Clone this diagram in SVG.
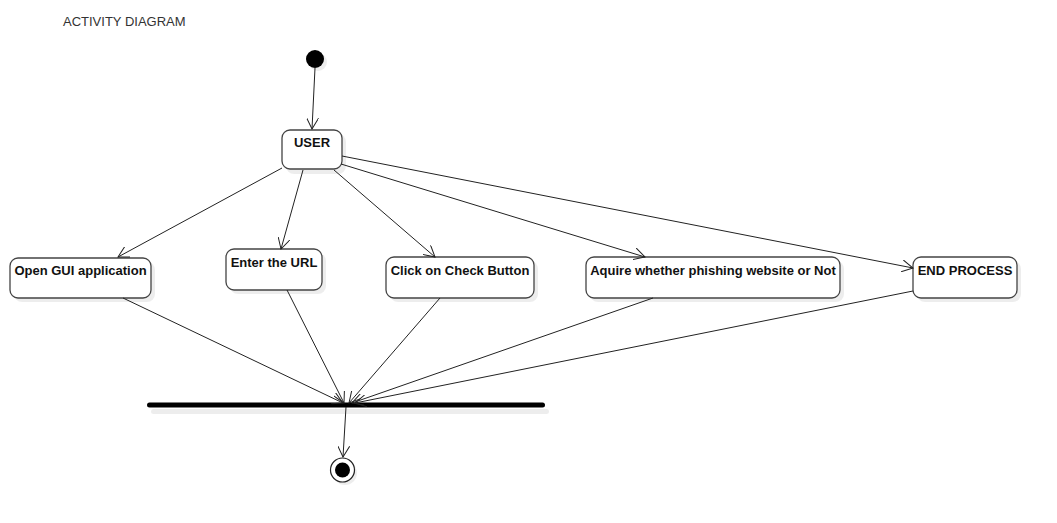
<svg xmlns="http://www.w3.org/2000/svg" width="1057" height="523" viewBox="0 0 1057 523">
<style>
.node{fill:#fff;stroke:#444;stroke-width:1.3}
.shadow{fill:#000;fill-opacity:0.07}
.lbl{font-family:"Liberation Sans",Arial,sans-serif;font-size:13px;font-weight:bold;fill:#111;text-anchor:middle}
.title{font-family:"Liberation Sans",Arial,sans-serif;font-size:13px;fill:#333}
.edge{fill:none;stroke:#222;stroke-width:1;marker-end:url(#arr)}
</style>
<defs>
<marker id="arr" viewBox="0 0 12 12" refX="11" refY="6" markerWidth="12" markerHeight="12" markerUnits="userSpaceOnUse" orient="auto">
<path d="M0,0 L11,6 L0,12" fill="none" stroke="#222" stroke-width="1"/>
</marker>
</defs>
<rect width="1057" height="523" fill="#fff"/>
<text class="title" x="63" y="26">ACTIVITY DIAGRAM</text>

<g id="start">
<circle cx="318" cy="62" r="9" class="shadow"/>
<circle cx="315" cy="59" r="9" fill="#000"/>
</g>

<g id="user">
<rect x="286" y="134" width="60" height="40" rx="8" class="shadow"/>
<rect x="282" y="130" width="60" height="39" rx="8" class="node"/>
<text class="lbl" x="312" y="147">USER</text>
</g>

<g id="open-gui">
<rect x="14" y="262" width="141" height="40" rx="8" class="shadow"/>
<rect x="10" y="258" width="141" height="40" rx="8" class="node"/>
<text class="lbl" x="80.5" y="275">Open GUI application</text>
</g>

<g id="enter-url">
<rect x="230" y="253" width="96" height="41" rx="8" class="shadow"/>
<rect x="226" y="249" width="96" height="41" rx="8" class="node"/>
<text class="lbl" x="274" y="267">Enter the URL</text>
</g>

<g id="click-check">
<rect x="390" y="261" width="148" height="41" rx="8" class="shadow"/>
<rect x="386" y="257" width="148" height="41" rx="8" class="node"/>
<text class="lbl" x="460" y="275">Click on Check Button</text>
</g>

<g id="aquire">
<rect x="590" y="261" width="254" height="41" rx="8" class="shadow"/>
<rect x="586" y="257" width="254" height="41" rx="8" class="node"/>
<text class="lbl" x="713" y="275">Aquire whether phishing website or Not</text>
</g>

<g id="end-process">
<rect x="917" y="261" width="104" height="41" rx="8" class="shadow"/>
<rect x="913" y="257" width="104" height="41" rx="8" class="node"/>
<text class="lbl" x="965" y="275">END PROCESS</text>
</g>

<g id="join-bar">
<rect x="151" y="409" width="398" height="5" rx="2.5" class="shadow"/>
<rect x="147" y="402.5" width="398" height="5" rx="2.5" fill="#000"/>
</g>

<g id="end">
<circle cx="345" cy="473" r="12" class="shadow"/>
<circle cx="342.5" cy="470" r="12" fill="#fff" stroke="#222" stroke-width="1.2"/>
<circle cx="342.5" cy="470" r="7.5" fill="#000"/>
</g>

<g id="connectors">
<path class="edge" d="M315,68 L312,129"/>
<path class="edge" d="M282,168 L118,257"/>
<path class="edge" d="M303,170 L281,249"/>
<path class="edge" d="M334,170 L435,257"/>
<path class="edge" d="M341,164 L645,257"/>
<path class="edge" d="M342,156 L913,268"/>
<path class="edge" d="M123,298 L343,403"/>
<path class="edge" d="M287,290 L344,403"/>
<path class="edge" d="M440,298 L349,403"/>
<path class="edge" d="M653,298 L352,403"/>
<path class="edge" d="M913,291 L355,403"/>
<path class="edge" d="M346,407 L343,457"/>
</g>
</svg>
